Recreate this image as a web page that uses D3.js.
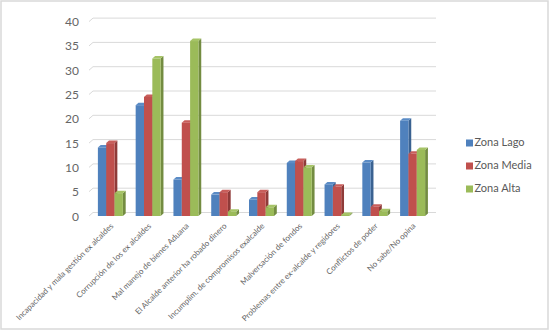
<!DOCTYPE html>
<html><head><meta charset="utf-8">
<script src="https://cdn.jsdelivr.net/npm/d3@7"></script>
<style>html,body{margin:0;padding:0;background:#fff;}svg{display:block;}</style>
</head><body>
<script>
const categories = [
  "Incapacidad y mala gestión ex alcaldes",
  "Corrupción de los ex alcaldes",
  "Mal manejo de bienes Aduana",
  "El Alcalde anterior ha robado dinero",
  "Incumplim. de compromisos exalcalde",
  "Malversación de fondos",
  "Problemas entre ex-alcalde y regidores",
  "Conflictos de poder",
  "No sabe/No opina"
];
const seriesNames = ["Zona Lago", "Zona Media", "Zona Alta"];
const zonaLago  = [14.1, 22.8, 7.5, 4.4, 3.4, 10.9, 6.5, 11.0, 19.6];
const zonaMedia = [15.0, 24.5, 19.2, 4.9, 4.9, 11.3, 6.0, 1.9, 12.8];
const zonaAlta  = [4.7, 32.4, 36.0, 0.9, 1.8, 10.0, 0.2, 1.0, 13.6];
const yTicks = [0, 5, 10, 15, 20, 25, 30, 35, 40];
const colors = ["#4F81BD", "#C0504D", "#9BBB59"];
const sideColors = ["#3A6291", "#8F3B39", "#738C41"];
const topColors = ["#5B8CC6", "#C85E5B", "#A6C467"];

const W = 550, H = 332;
const svg = d3.select("body").append("svg").attr("width", W).attr("height", H);
svg.append("rect").attr("x", 1).attr("y", 1).attr("width", 547).attr("height", 328)
  .attr("fill", "#fff").attr("stroke", "#d9d9d9").attr("stroke-width", 1.5);

const y = d3.scaleLinear().domain([0, 40]).range([216, 21.6]);
const x = d3.scaleBand().domain(categories).range([91.5, 431.5]).padding(0);
const groupW = 25;
const xs = d3.scaleBand().domain(seriesNames).range([0, groupW]);
const dx = 2.8, dy = -2.5, wallDx = 4, wallDy = -3.5;

// gridlines (back wall + side wall)
const grid = svg.append("g");
yTicks.forEach(t => {
  const yy = y(t);
  grid.append("line").attr("x1", 89).attr("y1", yy).attr("x2", 89 + wallDx).attr("y2", yy + wallDy)
    .attr("stroke", "#d9d9d9").attr("stroke-width", 1);
  grid.append("line").attr("x1", 89 + wallDx).attr("y1", yy + wallDy).attr("x2", 436).attr("y2", yy + wallDy)
    .attr("stroke", "#d9d9d9").attr("stroke-width", 1);
});

// y labels
svg.append("g").selectAll("text").data(yTicks).join("text")
  .attr("x", 79).attr("y", d => y(d) + 1.5)
  .attr("text-anchor", "end").attr("dominant-baseline", "middle")
  .attr("font-family", "Lato, 'Open Sans', sans-serif").attr("font-size", 12)
  .attr("fill", "#666666").text(d => d);

// bars
const data = [zonaLago, zonaMedia, zonaAlta];
const barsG = svg.append("g");
categories.forEach((c, i) => {
  const gx = x(c) + (x.bandwidth() - groupW) / 2;
  seriesNames.forEach((s, j) => {
    const v = data[j][i];
    const x0 = gx + xs(s), w = xs.bandwidth();
    const y0 = y(v), yb = y(0);
    barsG.append("path")
      .attr("d", `M${x0 + w},${y0} L${x0 + w + dx},${y0 + dy} L${x0 + w + dx},${yb + dy} L${x0 + w},${yb} Z`)
      .attr("fill", sideColors[j]);
    barsG.append("path")
      .attr("d", `M${x0},${y0} L${x0 + dx},${y0 + dy} L${x0 + w + dx},${y0 + dy} L${x0 + w},${y0} Z`)
      .attr("fill", topColors[j]);
    barsG.append("rect").attr("x", x0).attr("y", y0).attr("width", w).attr("height", Math.max(0, yb - y0))
      .attr("fill", colors[j]);
  });
});

// x labels
svg.append("g").selectAll("text").data(categories).join("text")
  .attr("transform", d => `translate(${x(d) + x.bandwidth() / 2 + 2},${225}) rotate(-45)`)
  .attr("text-anchor", "end").attr("dominant-baseline", "middle")
  .attr("font-family", "Lato, 'Open Sans', sans-serif").attr("font-size", 8)
  .attr("fill", "#666666").text(d => d);

// legend
const leg = svg.append("g");
seriesNames.forEach((s, j) => {
  const ly = 143 + j * 23;
  leg.append("rect").attr("x", 466).attr("y", ly - 3.5).attr("width", 7).attr("height", 7).attr("fill", colors[j]);
  leg.append("text").attr("x", 474.5).attr("y", ly + 0.5).attr("dominant-baseline", "middle")
    .attr("font-family", "Lato, 'Open Sans', sans-serif").attr("font-size", 11)
    .attr("fill", "#595959").text(s);
});
</script>
</body></html>
